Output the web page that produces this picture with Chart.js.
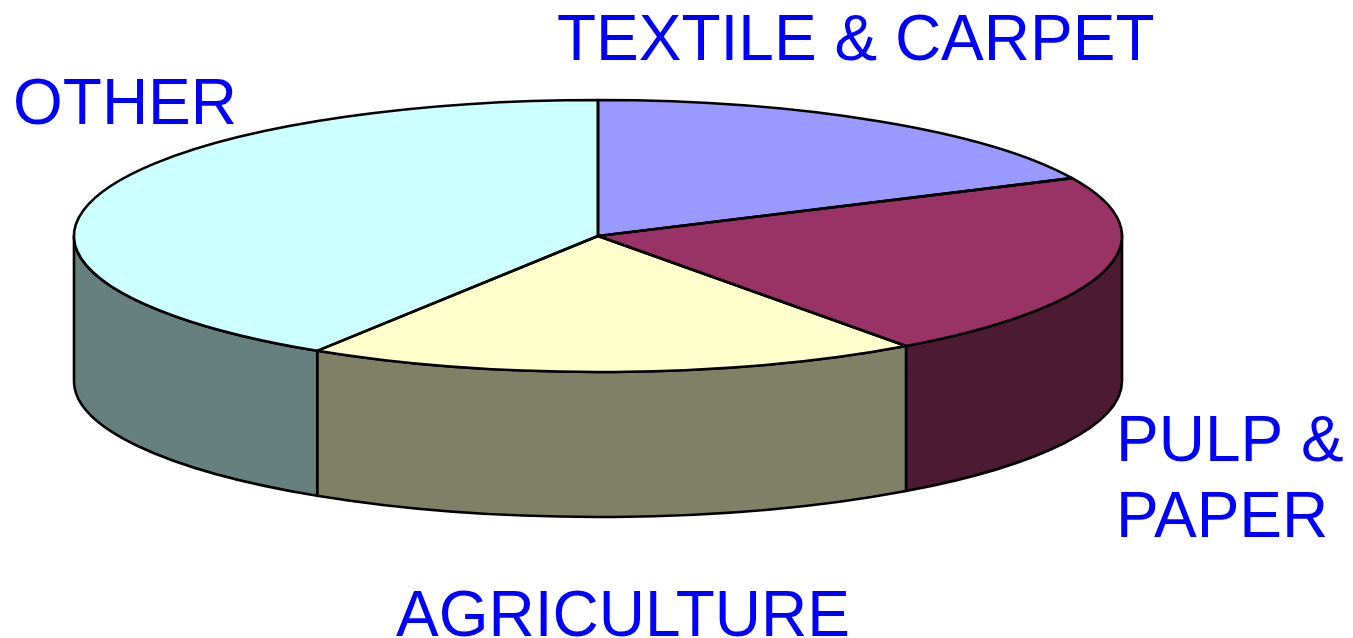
<!DOCTYPE html>
<html>
<head>
<meta charset="utf-8">
<title>Sectors</title>
<script src="https://cdn.jsdelivr.net/npm/chart.js@4.4.1/dist/chart.umd.min.js"></script>
<style>
  html, body { margin:0; padding:0; background:#fff; }
  #wrap { width:1353px; height:638px; }
</style>
</head>
<body>
<div id="wrap"><canvas id="pieChart" width="1353" height="638"></canvas></div>
<script>
// ===== Data =====
const labels = ['TEXTILE & CARPET', 'PULP & PAPER', 'AGRICULTURE', 'OTHER'];
const shares = [18, 22, 19, 41];

// ===== Styles =====
const topColors  = ['#9999FF', '#993366', '#FFFFCC', '#CCFFFF'];
const sideColors = ['#4D4D80', '#4D1A33', '#808066', '#668080'];

// ellipse of the top face + thickness of the disc
const disc = { cx:598, cy:236, rx:524, ry:136, depth:145 };

// label anchors (left x, first baseline y, wrap width)
const labelPos = [
    { x:557,  y:60,  w:700 },
    { x:1116, y:461, w:235 },
    { x:396,  y:636, w:700 },
    { x:13,   y:124, w:400 }
];

// ===== 3D pie plugin =====
const pie3d = {
    id:'pie3d',
    beforeDatasetsDraw(chart){
        const ctx = chart.ctx;
        const arcs = chart.getDatasetMeta(0).data;
        const d = disc;

        // side walls (front half only: angles 0..PI)
        arcs.forEach(function(a, i){
            [0, 2*Math.PI].forEach(function(off){
                const a1 = Math.max(a.startAngle, off);
                const a2 = Math.min(a.endAngle, off + Math.PI);
                if(a2 <= a1) return;
                ctx.save();
                ctx.beginPath();
                ctx.ellipse(d.cx, d.cy, d.rx, d.ry, 0, a1, a2, false);
                ctx.lineTo(d.cx + d.rx*Math.cos(a2), d.cy + d.depth + d.ry*Math.sin(a2));
                ctx.ellipse(d.cx, d.cy + d.depth, d.rx, d.ry, 0, a2, a1, true);
                ctx.closePath();
                ctx.fillStyle = sideColors[i];
                ctx.fill();
                ctx.lineWidth = 2.6;
                ctx.lineJoin = 'round';
                ctx.strokeStyle = '#000';
                ctx.stroke();
                ctx.restore();
            });
        });

        // squash the round pie into the ellipse
        const a0 = arcs[0];
        ctx.save();
        ctx.translate(d.cx, d.cy);
        ctx.scale(d.rx / a0.outerRadius, d.ry / a0.outerRadius);
        ctx.translate(-a0.x, -a0.y);
    },
    afterDatasetsDraw(chart){
        const ctx = chart.ctx;
        ctx.restore();
        const d = disc;
        // outlines of the top face slices
        chart.getDatasetMeta(0).data.forEach(function(a){
            ctx.save();
            ctx.beginPath();
            ctx.moveTo(d.cx, d.cy);
            ctx.lineTo(d.cx + d.rx*Math.cos(a.startAngle), d.cy + d.ry*Math.sin(a.startAngle));
            ctx.ellipse(d.cx, d.cy, d.rx, d.ry, 0, a.startAngle, a.endAngle, false);
            ctx.closePath();
            ctx.lineWidth = 2.6;
            ctx.lineJoin = 'round';
            ctx.strokeStyle = '#000';
            ctx.stroke();
            ctx.restore();
        });
    },
    afterDraw(chart){
        const ctx = chart.ctx;
        ctx.save();
        ctx.font = '64px "Liberation Sans", Arial, sans-serif';
        ctx.fillStyle = '#0000FF';
        ctx.textAlign = 'left';
        ctx.textBaseline = 'alphabetic';
        chart.data.labels.forEach(function(txt, i){
            const p = labelPos[i];
            // simple word wrap
            const words = txt.split(' ');
            const lines = [];
            let line = '';
            words.forEach(function(w){
                const test = line ? line + ' ' + w : w;
                if(line && ctx.measureText(test).width > p.w){ lines.push(line); line = w; }
                else line = test;
            });
            lines.push(line);
            lines.forEach(function(l, k){ ctx.fillText(l, p.x, p.y + k*76); });
        });
        ctx.restore();
    }
};

// ===== Chart =====
function initPieChart(){
    const ctx = document.getElementById('pieChart').getContext('2d');
    new Chart(ctx,{
        type:'pie',
        data:{ labels, datasets:[{ data: shares, backgroundColor: topColors, borderWidth:0 }] },
        options:{
            responsive:false,
            animation:false,
            events:[],
            plugins:{ legend:{ display:false }, tooltip:{ enabled:false } }
        },
        plugins:[pie3d]
    });
}

initPieChart();
</script>
</body>
</html>
